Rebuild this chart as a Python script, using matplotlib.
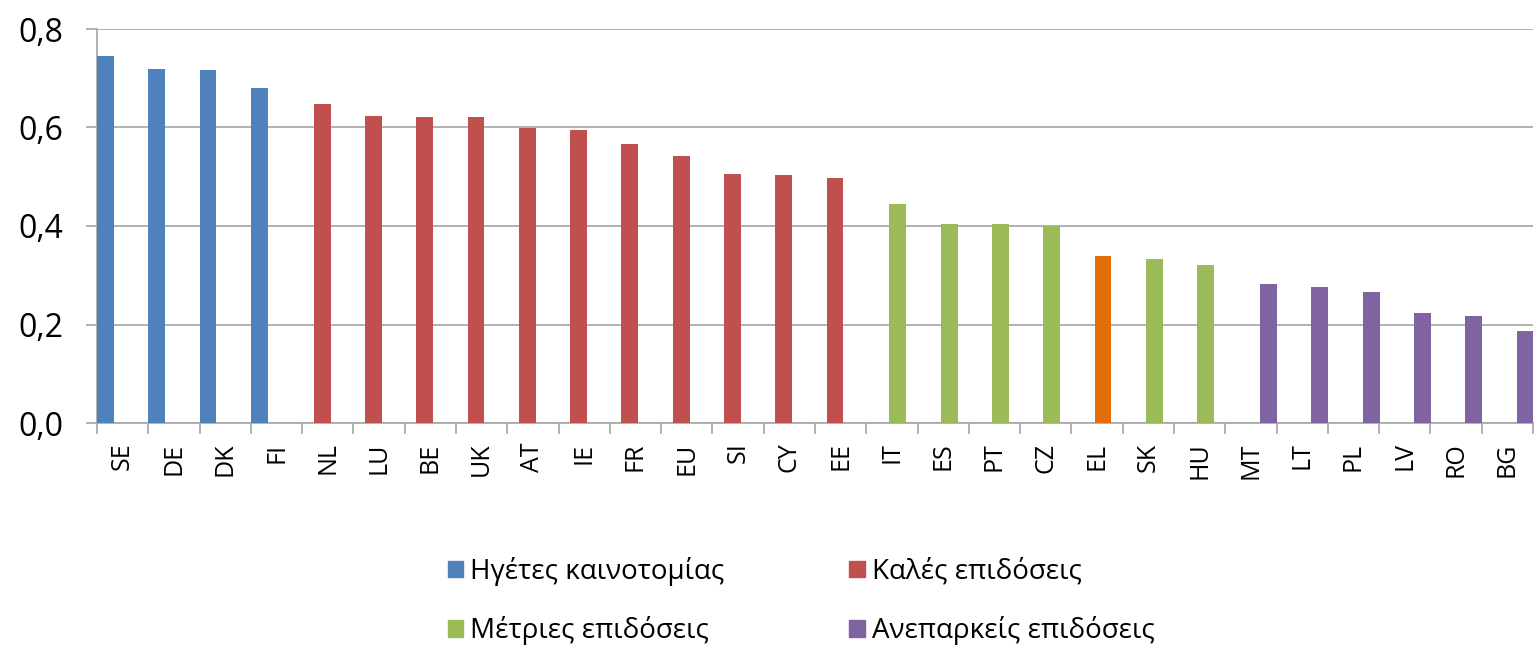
import numpy as np
import matplotlib.pyplot as plt
from matplotlib.patches import Patch

plt.rcParams['font.family'] = ['Open Sans', 'DejaVu Sans']

countries = ['SE', 'DE', 'DK', 'FI', 'NL', 'LU', 'BE', 'UK', 'AT', 'IE', 'FR', 'EU', 'SI', 'CY',
             'EE', 'IT', 'ES', 'PT', 'CZ', 'EL', 'SK', 'HU', 'MT', 'LT', 'PL', 'LV', 'RO', 'BG']
values = [0.745, 0.719, 0.717, 0.681, 0.647, 0.623, 0.621, 0.621, 0.600, 0.594, 0.566, 0.543, 0.506, 0.504,
          0.498, 0.444, 0.405, 0.405, 0.399, 0.340, 0.334, 0.321, 0.282, 0.277, 0.267, 0.223, 0.217, 0.186]
# 0 = leaders, 1 = strong, 2 = moderate, 3 = modest
groups = [0, 0, 0, 0, 1, 1, 1, 1, 1, 1, 1, 1, 1, 1,
          1, 2, 2, 2, 2, 2, 2, 2, 3, 3, 3, 3, 3, 3]
group_names = ['Ηγέτες καινοτομίας', 'Καλές επιδόσεις', 'Μέτριες επιδόσεις', 'Ανεπαρκείς επιδόσεις']
highlight = 'EL'

colors = ['#4F81BD', '#C0504D', '#9BBB59', '#8064A2']
hl_color = '#E46C0A'
offsets = [0.0, 0.225, 0.45, 0.68]   # excel clustered bar position inside the slot
bw = 0.33

fig = plt.figure(figsize=(15.39, 6.49), dpi=100)
ax = fig.add_axes([97/1539, 1-423/649, 1436/1539, 394/649])

x = np.arange(len(countries))
for g in range(4):
    idx = [i for i in range(len(countries)) if groups[i] == g]
    cols = [hl_color if countries[i] == highlight else colors[g] for i in idx]
    ax.bar(x[idx] + offsets[g], [values[i] for i in idx], width=bw, align='edge',
           color=cols, zorder=3)

ax.set_xlim(0, len(countries))
ax.set_ylim(0, 0.8)
yt = np.arange(0, 0.81, 0.2)
ax.set_yticks(yt)
ax.set_yticklabels([('%.1f' % v).replace('.', ',') for v in yt], fontsize=23)
ax.yaxis.grid(True, color='#A6A6A6', lw=1.2, zorder=0)

ax.set_xticks(np.arange(len(countries) + 1))
ax.set_xticklabels([])
ax.set_xticks(x + 0.5, minor=True)
ax.set_xticklabels(countries, minor=True, rotation=90, fontsize=18, va='top')
ax.tick_params(axis='x', which='major', length=8, color='#A6A6A6', width=1.2)
ax.tick_params(axis='x', which='minor', length=0, pad=14)
ax.tick_params(axis='y', length=8, color='#A6A6A6', width=1.2, pad=16)

for s in ['top', 'right']:
    ax.spines[s].set_visible(False)
for s in ['left', 'bottom']:
    ax.spines[s].set_color('#A6A6A6')
    ax.spines[s].set_linewidth(1.2)

# excel fills the legend row by row, matplotlib column by column
order = [0, 2, 1, 3]
handles = [Patch(color=colors[k]) for k in order]
fig.legend(handles, [group_names[k] for k in order], loc='upper left', bbox_to_anchor=(0.291, 0.142),
           ncol=2, frameon=False, fontsize=20, handlelength=0.55, handleheight=0.55, handletextpad=0.25,
           columnspacing=4.5, labelspacing=1.1, borderpad=0, borderaxespad=0)

fig.savefig('out.png', dpi=100)
